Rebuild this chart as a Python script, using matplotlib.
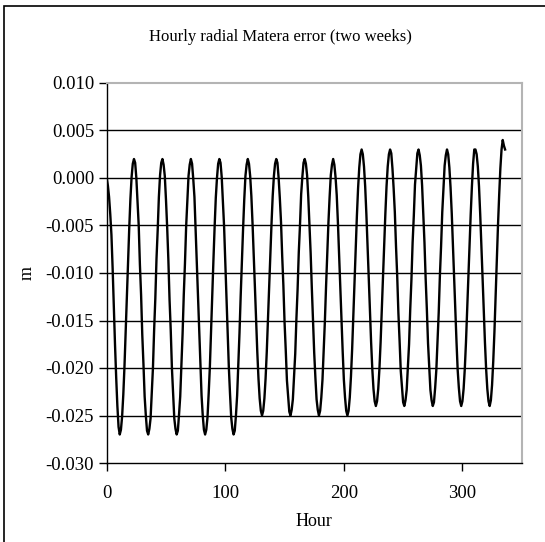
import numpy as np
import matplotlib
matplotlib.use('Agg')
import matplotlib.pyplot as plt
from matplotlib.patches import Rectangle

plt.rcParams['font.family'] = ['Liberation Serif', 'DejaVu Serif']

# hourly radial error in mm (hour 0..336)
week1_mm = [
    0.0, -0.8, -2.0, -3.8, -6.0, -9.5, -13.5, -17.5, -21.0, -24.0, -26.2, -27.0,
    -26.5, -25.1, -22.8, -19.8, -16.2, -12.5, -8.8, -5.3, -2.2, 0.1, 1.5, 2.0,
    1.6, 0.0, -2.6, -5.0, -9.1, -12.3, -16.5, -19.6, -23.0, -25.0, -26.6, -27.0,
    -26.4, -25.3, -22.6, -20.0, -16.0, -12.7, -8.5, -5.5, -2.0, 0.3, 1.6, 2.0,
    1.4, 0.2, -2.3, -5.2, -8.6, -12.8, -16.0, -20.0, -22.6, -25.3, -26.4, -27.0,
    -26.6, -24.9, -23.0, -19.6, -16.4, -12.3, -9.0, -5.1, -2.4, 0.2, 1.4, 2.0,
    1.5, -0.1, -2.0, -5.5, -8.7, -12.4, -16.3, -19.7, -22.9, -25.0, -26.5, -27.0,
    -26.5, -25.2, -22.7, -19.9, -16.1, -12.6, -8.7, -5.2, -2.1, 0.0, 1.5, 2.0,
    1.6, 0.1, -2.4, -5.1, -8.9, -12.5, -16.1, -19.9, -22.7, -25.2, -26.4, -27.0,
    -26.6, -25.0, -22.9, -19.7, -16.3, -12.4, -8.9, -5.4, -2.3, 0.2, 1.4, 2.0,
    1.5, 0.2, -1.9, -4.8, -8.0, -11.5, -15.0, -18.3, -21.1, -23.2, -24.5, -25.0,
    -24.5, -23.2, -21.1, -18.3, -15.0, -11.5, -8.0, -4.8, -1.9, 0.2, 1.5, 2.0,
    1.6, 0.0, -2.1, -4.6, -8.2, -11.3, -15.2, -18.1, -21.3, -23.0, -24.6, -25.0,
    -24.4, -23.3, -20.9, -18.5, -14.8, -11.7, -7.8, -5.0, -1.7, 0.1, 1.6, 2.0,
]
week2_mm = [
    1.5, 0.3, -2.0, -4.9, -7.9, -11.6, -14.9, -18.4, -21.0, -23.3, -24.4, -25.0,
    -24.5, -23.1, -21.2, -18.2, -15.1, -11.4, -8.1, -4.7, -2.0, 0.3, 1.4, 2.0,
    1.4, 0.1, -1.8, -4.7, -8.1, -11.4, -15.1, -18.2, -21.2, -23.1, -24.5, -25.0,
    -24.5, -23.1, -20.9, -18.0, -14.6, -11.0, -7.4, -4.0, -1.1, 1.1, 2.5, 3.0,
    2.5, 1.2, -0.9, -3.8, -7.0, -10.5, -14.0, -17.3, -20.1, -22.2, -23.5, -24.0,
    -23.5, -22.2, -20.1, -17.3, -14.0, -10.5, -7.0, -3.8, -0.9, 1.2, 2.5, 3.0,
    2.6, 1.0, -1.1, -3.6, -7.2, -10.3, -14.2, -17.1, -20.3, -22.0, -23.6, -24.0,
    -23.4, -22.3, -19.9, -17.5, -13.8, -10.7, -6.8, -4.0, -0.7, 1.0, 2.6, 3.0,
    2.4, 1.3, -0.8, -3.9, -6.8, -10.6, -13.8, -17.4, -19.9, -22.3, -23.4, -24.0,
    -23.6, -22.1, -20.2, -17.1, -14.2, -10.3, -7.2, -3.6, -1.1, 1.3, 2.4, 3.0,
    2.5, 1.1, -1.0, -3.7, -7.1, -10.4, -14.1, -17.2, -20.2, -22.1, -23.5, -24.0,
    -23.5, -22.2, -20.1, -17.3, -14.0, -10.5, -7.0, -3.8, -0.9, 1.5, 3.0, 3.0,
    2.5, 1.2, -0.9, -3.8, -7.0, -10.5, -14.0, -17.3, -20.1, -22.2, -23.5, -24.0,
    -23.4, -21.8, -19.3, -16.2, -12.5, -8.7, -5.0, -1.8, 1.0, 3.0, 4.0, 3.4, 3.0,
]
y_ticks = [-0.030, -0.025, -0.020, -0.015, -0.010, -0.005, 0.000, 0.005, 0.010]
x_ticks = [0, 100, 200, 300]

err = np.array(week1_mm + week2_mm) / 1000.0
hours = np.arange(len(err))

W, H = 545, 542
fig = plt.figure(figsize=(W/100, H/100), dpi=100)
fig.patches.append(Rectangle((4/W, -0.1), 1.2, (H-6)/H + 0.1, transform=fig.transFigure,
                             fill=False, ec='black', lw=1.2))
ax = fig.add_axes([106.7/W, 1-463/H, 415/W, 380/H])
ax.plot(hours, err, color='black', lw=1.7, zorder=3)

ax.set_xlim(0, 350); ax.set_ylim(-0.030, 0.010)
ax.set_xticks(x_ticks); ax.set_yticks(y_ticks)
ax.set_yticklabels([f'{v:.3f}' for v in y_ticks])
for v in y_ticks[1:-1]:
    ax.axhline(v, color='black', lw=1.0, zorder=1)
for s in ['top', 'right']:
    ax.spines[s].set_color('#b4b4b4'); ax.spines[s].set_linewidth(1.5)
for s in ['left', 'bottom']:
    ax.spines[s].set_color('black'); ax.spines[s].set_linewidth(1.0)
ax.tick_params(axis='both', direction='out', length=6, width=1.0, labelsize=13.5, colors='black')
ax.tick_params(axis='x', pad=10)
ax.tick_params(axis='y', pad=3)
ax.set_xlabel('Hour', fontsize=13, labelpad=8)
ax.set_ylabel('m', fontsize=13, labelpad=7)
fig.text(280/W, 1-37/H, 'Hourly radial Matera error (two weeks)', ha='center', va='center', fontsize=12)

fig.savefig('out.png', dpi=100)
